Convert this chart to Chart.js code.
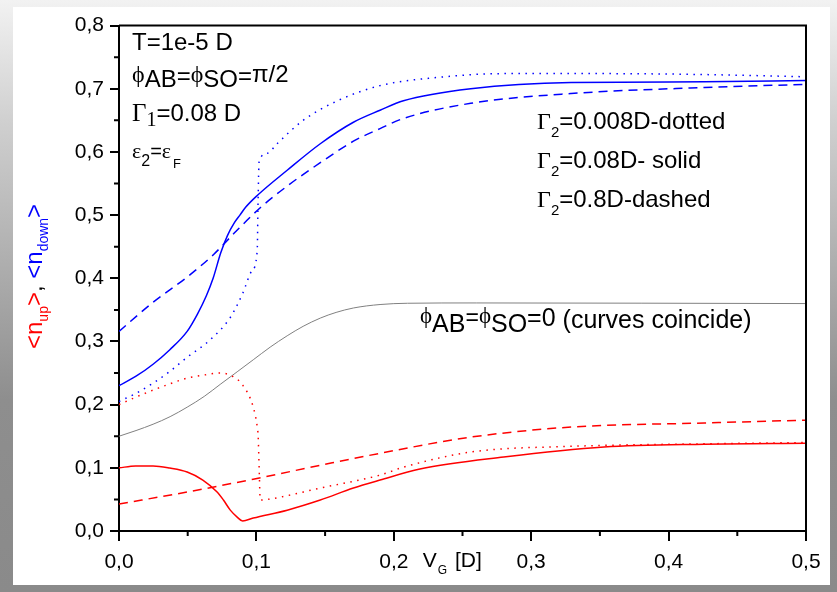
<!DOCTYPE html>
<html>
<head>
<meta charset="utf-8">
<script src="https://cdn.jsdelivr.net/npm/chart.js@4.4.0/dist/chart.umd.min.js"></script>
<style>
  html, body { margin: 0; padding: 0; }
  body {
    width: 837px; height: 592px; overflow: hidden; position: relative;
    background: linear-gradient(to bottom, #f2f2f2 0px, #d0d0d0 120px, #8e8e8e 400px, #8a8a8a 592px);
  }
  #frame {
    position: absolute; left: 13px; top: 7px; width: 817px; height: 578px;
    background: #fff;
  }
</style>
</head>
<body>
<div id="frame"><canvas id="chart" width="817" height="578"></canvas></div>
<script>
// Occupation numbers vs gate voltage V_G (units of D)
// n_down (blue), three Gamma_2 values
const vgDownDotted = [0, 0.0124, 0.0248, 0.0372, 0.0496, 0.066, 0.081, 0.090, 0.097, 0.1006, 0.1012, 0.102, 0.108, 0.115, 0.134, 0.159, 0.19, 0.232, 0.28, 0.353, 0.426, 0.5];
const nDownDotted  = [0.205, 0.218, 0.234, 0.253, 0.275, 0.302, 0.338, 0.376, 0.413, 0.444, 0.52, 0.585, 0.598, 0.613, 0.650, 0.681, 0.705, 0.718, 0.724, 0.724, 0.7225, 0.719];

const vgDownSolid = [0, 0.0124, 0.0248, 0.037, 0.0496, 0.057, 0.0635, 0.0685, 0.074, 0.079, 0.084, 0.088, 0.092, 0.1006, 0.1224, 0.1465, 0.1706, 0.19, 0.207, 0.256, 0.329, 0.426, 0.5];
const nDownSolid  = [0.23, 0.245, 0.264, 0.287, 0.316, 0.343, 0.372, 0.40, 0.44, 0.468, 0.488, 0.50, 0.512, 0.531, 0.571, 0.613, 0.647, 0.666, 0.681, 0.700, 0.710, 0.711, 0.713];

const vgDownDashed = [0, 0.0248, 0.0496, 0.0685, 0.085, 0.103, 0.1224, 0.1465, 0.1706, 0.19, 0.207, 0.256, 0.329, 0.426, 0.5];
const nDownDashed  = [0.316, 0.362, 0.402, 0.437, 0.474, 0.512, 0.546, 0.583, 0.617, 0.637, 0.653, 0.677, 0.6925, 0.702, 0.707];

// n_up (red)
const vgUpDotted = [0, 0.0124, 0.0248, 0.0372, 0.0496, 0.062, 0.0736, 0.081, 0.090, 0.0977, 0.1006, 0.1013, 0.102, 0.1028, 0.110, 0.1465, 0.19, 0.207, 0.256, 0.329, 0.426, 0.5];
const nUpDotted  = [0.2, 0.212, 0.223, 0.233, 0.242, 0.247, 0.250, 0.2466, 0.231, 0.196, 0.165, 0.149, 0.10, 0.049, 0.0506, 0.068, 0.0885, 0.101, 0.125, 0.134, 0.138, 0.14];

const vgUpSolid = [0, 0.0121, 0.0248, 0.037, 0.0496, 0.061, 0.0714, 0.076, 0.081, 0.086, 0.090, 0.0977, 0.1224, 0.1465, 0.1706, 0.19, 0.219, 0.28, 0.353, 0.426, 0.5];
const nUpSolid  = [0.10, 0.1028, 0.103, 0.0996, 0.0933, 0.0806, 0.0617, 0.049, 0.033, 0.022, 0.0158, 0.0205, 0.033, 0.049, 0.068, 0.0806, 0.098, 0.117, 0.133, 0.1375, 0.139];

const vgUpDashed = [0, 0.0496, 0.0977, 0.1465, 0.19, 0.256, 0.329, 0.426, 0.5];
const nUpDashed  = [0.0427, 0.0617, 0.082, 0.104, 0.123, 0.1486, 0.1645, 0.171, 0.1755];

// phi_AB = phi_SO = 0 (all curves coincide)
const vgZero = [0, 0.0124, 0.0248, 0.0372, 0.0496, 0.062, 0.0736, 0.086, 0.0977, 0.11, 0.1224, 0.134, 0.1465, 0.158, 0.1706, 0.19, 0.21, 0.26, 0.5];
const nZero  = [0.15, 0.159, 0.169, 0.181, 0.196, 0.213, 0.232, 0.252, 0.271, 0.291, 0.309, 0.324, 0.337, 0.346, 0.353, 0.3585, 0.3605, 0.361, 0.36];

const xTicks = [0, 0.1, 0.2, 0.3, 0.4, 0.5];
const yTicks = [0, 0.1, 0.2, 0.3, 0.4, 0.5, 0.6, 0.7, 0.8];

const SANS = '"Liberation Sans", Arial, sans-serif';
const SERIF = '"Liberation Serif", "Times New Roman", serif';
const BLUE = '#0000ff';
const RED = '#ff0000';

const pts = (xs, ys) => xs.map((x, i) => ({ x: x, y: ys[i] }));
const comma = v => v.toFixed(1).replace('.', ',');

const line = (label, xs, ys, color, dash, width) => ({
    label: label,
    data: pts(xs, ys),
    borderColor: color,
    borderWidth: width || 1.5,
    borderDash: dash || [],
    pointRadius: 0,
    cubicInterpolationMode: 'monotone',
    fill: false
});

// draws a run of text pieces one after another (for sub/superscripts)
function richText(ctx, x, y, parts) {
    let cx = x;
    parts.forEach(p => {
        ctx.font = p.font;
        ctx.fillStyle = p.color || '#000';
        cx += p.dx || 0;
        ctx.fillText(p.t, cx, y + (p.dy || 0));
        cx += ctx.measureText(p.t).width;
    });
}

const f = (size, fam) => `${size}px ${fam || SANS}`;

const decorPlugin = {
    id: 'decor',
    afterDraw(chart) {
        const ctx = chart.ctx;
        const a = chart.chartArea;
        const xs = chart.scales.x, ys = chart.scales.y;
        ctx.save();

        // frame (top / right) and minor ticks
        ctx.strokeStyle = '#000';
        ctx.lineWidth = 2;
        ctx.beginPath();
        ctx.moveTo(a.left, a.top); ctx.lineTo(a.right, a.top); ctx.lineTo(a.right, a.bottom);
        ctx.stroke();
        ctx.beginPath();
        for (let i = 0; i < xTicks.length - 1; i++) {
            const px = xs.getPixelForValue((xTicks[i] + xTicks[i + 1]) / 2);
            ctx.moveTo(px, a.bottom); ctx.lineTo(px, a.bottom + 5);
        }
        for (let i = 0; i < yTicks.length - 1; i++) {
            const py = ys.getPixelForValue((yTicks[i] + yTicks[i + 1]) / 2);
            ctx.moveTo(a.left, py); ctx.lineTo(a.left - 5, py);
        }
        ctx.stroke();

        ctx.textBaseline = 'alphabetic';
        ctx.textAlign = 'left';

        // parameter block, top left
        richText(ctx, 119, 43, [{ t: 'T=1e-5 D', font: f(24) }]);
        richText(ctx, 119, 80, [
            { t: 'ϕ', font: f(24, SERIF), dy: -5 },
            { t: 'AB', font: f(24) },
            { t: '=', font: f(24), dy: -3 },
            { t: 'ϕ', font: f(24, SERIF), dy: -5 },
            { t: 'SO', font: f(24) },
            { t: '=', font: f(24), dy: -3 },
            { t: 'π/2', font: f(24), dy: -5 }
        ]);
        richText(ctx, 119, 114, [
            { t: 'Γ', font: f(25, SERIF) },
            { t: '1', font: f(20, SERIF), dy: 5 },
            { t: '=0.08 D', font: f(24) }
        ]);
        richText(ctx, 119, 151, [
            { t: 'ε', font: f(22, SERIF) },
            { t: '2', font: f(16), dy: 8 },
            { t: '=', font: f(20) },
            { t: 'ε', font: f(22, SERIF) },
            { t: 'F', font: f(13), dy: 10, dx: 2 }
        ]);

        // Gamma_2 legend, right
        const legend = ['=0.008D-dotted', '=0.08D- solid', '=0.8D-dashed'];
        legend.forEach((s, i) => {
            richText(ctx, 524, 122 + i * 39, [
                { t: 'Γ', font: f(24, SERIF) },
                { t: '2', font: f(15), dy: 8 },
                { t: s, font: f(24) }
            ]);
        });

        // zero-phase note
        richText(ctx, 407, 321, [
            { t: 'ϕ', font: f(23, SERIF), dy: -5 },
            { t: 'AB', font: f(25), dy: 4 },
            { t: '=', font: f(23), dy: -3 },
            { t: 'ϕ', font: f(23, SERIF), dy: -5 },
            { t: 'SO', font: f(25), dy: 4 },
            { t: '=0', font: f(25), dy: -2 },
            { t: ' (curves coincide)', font: f(25) }
        ]);

        // x-axis title next to the 0,2 label
        richText(ctx, xs.getPixelForValue(0.2) + 29, 560, [
            { t: 'V', font: f(21) },
            { t: 'G', font: f(12), dy: 7, dx: 1 },
            { t: ' [D]', font: f(21), dx: 2 }
        ]);

        // y-axis title, rotated
        ctx.translate(29, 342);
        ctx.rotate(-Math.PI / 2);
        richText(ctx, 0, 0, [
            { t: '<n', font: f(24), color: RED },
            { t: 'up', font: f(14), color: RED, dy: 6 },
            { t: '>', font: f(24), color: RED },
            { t: ', ', font: f(24), color: '#000' },
            { t: '<n', font: f(24), color: BLUE },
            { t: 'down', font: f(14), color: BLUE, dy: 6 },
            { t: '>', font: f(24), color: BLUE }
        ]);
        ctx.restore();
    }
};

new Chart(document.getElementById('chart'), {
    type: 'line',
    data: {
        datasets: [
            line('n_down, G2=0.008D', vgDownDotted, nDownDotted, BLUE, [1.5, 5.5]),
            line('n_down, G2=0.08D', vgDownSolid, nDownSolid, BLUE),
            line('n_down, G2=0.8D', vgDownDashed, nDownDashed, BLUE, [9, 6]),
            line('n_up, G2=0.008D', vgUpDotted, nUpDotted, RED, [1.5, 5.5]),
            line('n_up, G2=0.08D', vgUpSolid, nUpSolid, RED),
            line('n_up, G2=0.8D', vgUpDashed, nUpDashed, RED, [9, 6]),
            line('phi=0', vgZero, nZero, '#808080', [], 1)
        ]
    },
    options: {
        responsive: false,
        animation: false,
        layout: { padding: { left: 0, top: 18, right: 24, bottom: 0 } },
        plugins: { legend: { display: false }, tooltip: { enabled: false } },
        scales: {
            x: {
                type: 'linear',
                min: 0, max: 0.5,
                afterFit: s => { s.height = 54; },
                afterBuildTicks: s => { s.ticks = xTicks.map(v => ({ value: v })); },
                grid: { drawOnChartArea: false, drawTicks: true, tickLength: 10, color: '#000', lineWidth: 2 },
                border: { display: true, color: '#000', width: 2 },
                ticks: { callback: comma, color: '#000', font: { family: SANS, size: 21 }, padding: 9, maxRotation: 0 }
            },
            y: {
                type: 'linear',
                min: 0, max: 0.8,
                afterFit: s => { s.width = 106; },
                afterBuildTicks: s => { s.ticks = yTicks.map(v => ({ value: v })); },
                grid: { drawOnChartArea: false, drawTicks: true, tickLength: 9, color: '#000', lineWidth: 2 },
                border: { display: true, color: '#000', width: 2 },
                ticks: { callback: comma, color: '#000', font: { family: SANS, size: 21 }, padding: 6 }
            }
        }
    },
    plugins: [decorPlugin]
});
</script>
</body>
</html>
